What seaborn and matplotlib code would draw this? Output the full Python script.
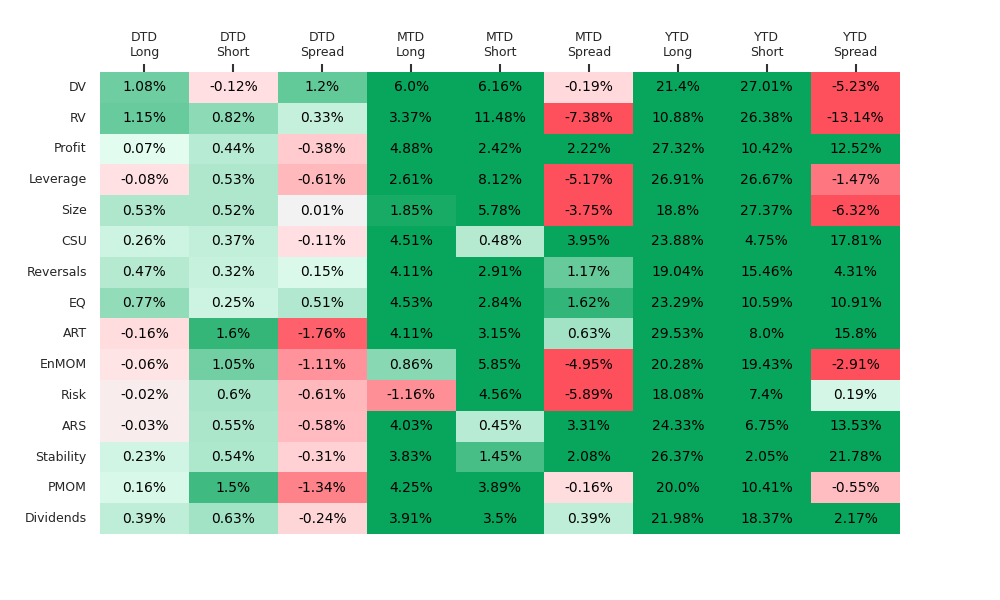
import pandas as pd
import numpy as np
import matplotlib
matplotlib.use("Agg")
import matplotlib.pyplot as plt
import seaborn as sns
from seaborn.external import husl

# ── data ─────────────────────────────────────────────
factors = ["DV", "RV", "Profit", "Leverage", "Size", "CSU", "Reversals", "EQ",
           "ART", "EnMOM", "Risk", "ARS", "Stability", "PMOM", "Dividends"]

dtd_long = [1.08, 1.15, 0.07, -0.08, 0.53, 0.26, 0.47, 0.77, -0.16, -0.06, -0.02, -0.03, 0.23, 0.16, 0.39]
dtd_short = [-0.12, 0.82, 0.44, 0.53, 0.52, 0.37, 0.32, 0.25, 1.6, 1.05, 0.6, 0.55, 0.54, 1.5, 0.63]
dtd_spread = [1.2, 0.33, -0.38, -0.61, 0.01, -0.11, 0.15, 0.51, -1.76, -1.11, -0.61, -0.58, -0.31, -1.34, -0.24]
mtd_long = [6.0, 3.37, 4.88, 2.61, 1.85, 4.51, 4.11, 4.53, 4.11, 0.86, -1.16, 4.03, 3.83, 4.25, 3.91]
mtd_short = [6.16, 11.48, 2.42, 8.12, 5.78, 0.48, 2.91, 2.84, 3.15, 5.85, 4.56, 0.45, 1.45, 3.89, 3.5]
mtd_spread = [-0.19, -7.38, 2.22, -5.17, -3.75, 3.95, 1.17, 1.62, 0.63, -4.95, -5.89, 3.31, 2.08, -0.16, 0.39]
ytd_long = [21.4, 10.88, 27.32, 26.91, 18.8, 23.88, 19.04, 23.29, 29.53, 20.28, 18.08, 24.33, 26.37, 20.0, 21.98]
ytd_short = [27.01, 26.38, 10.42, 26.67, 27.37, 4.75, 15.46, 10.59, 8.0, 19.43, 7.4, 6.75, 2.05, 10.41, 18.37]
ytd_spread = [-5.23, -13.14, 12.52, -1.47, -6.32, 17.81, 4.31, 10.91, 15.8, -2.91, 0.19, 13.53, 21.78, -0.55, 2.17]

col_labels = ["DTD\nLong", "DTD\nShort", "DTD\nSpread",
              "MTD\nLong", "MTD\nShort", "MTD\nSpread",
              "YTD\nLong", "YTD\nShort", "YTD\nSpread"]

perf_df = pd.DataFrame(
    np.column_stack([dtd_long, dtd_short, dtd_spread, mtd_long, mtd_short,
                     mtd_spread, ytd_long, ytd_short, ytd_spread]),
    index=factors, columns=col_labels)

annot_labels = perf_df.map(lambda v: f"{v}%")

# ── colour map (red -> light -> gray -> light -> green) ──
sep = 3

def light_ramp(h, s, l, reverse=False):
    base = husl.husl_to_rgb(h, s, l)
    light = sns.set_hls_values(base, l=.95)
    ends = [base, light] if reverse else [light, base]
    return sns.blend_palette(ends, 128 - sep // 2)

neg = light_ramp(10, 99, 59.5, reverse=True)
pos = light_ramp(140, 99, 59.5)
mid = [(.95, .95, .95)] * sep
cmap = sns.blend_palette(list(neg) + mid + list(pos), 256, as_cmap=True)

# ── plot ─────────────────────────────────────────────
fig, ax = plt.subplots(figsize=(10, 6), dpi=100)
fig.subplots_adjust(left=0.1, right=0.9, top=0.88, bottom=0.11)

sns.heatmap(perf_df, ax=ax, cmap=cmap, vmin=-2, vmax=2, center=0,
            annot=annot_labels, fmt="", cbar=False,
            annot_kws={"size": 10, "color": "black"})

ax.xaxis.tick_top()
ax.tick_params(axis="x", length=6, width=1.5, color="#333333", labelsize=9,
               labelcolor="#262626", rotation=0)
ax.tick_params(axis="y", length=0, labelsize=9, labelcolor="#262626", rotation=0, pad=9.5)
ax.set_xlabel("")
ax.set_ylabel("")

plt.savefig("out.png", dpi=100)
